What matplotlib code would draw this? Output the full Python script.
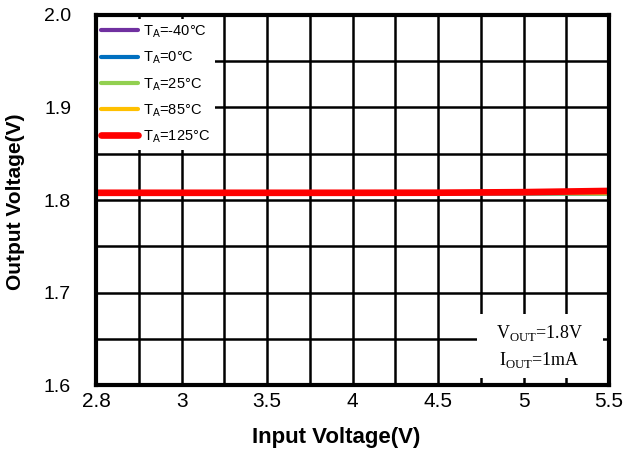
import matplotlib.pyplot as plt
import matplotlib.patches as mpatches
import numpy as np

plt.rcParams['font.family'] = ['Liberation Sans', 'DejaVu Sans']

# input voltage points (V)
vin = [2.8, 3.0, 3.5, 4.0, 4.5, 5.0, 5.5]
# output voltage per temperature (V)
vout_m40 = [1.8072, 1.8072, 1.8072, 1.8072, 1.8072, 1.8071, 1.8071]
vout_0 = [1.8074, 1.8074, 1.8074, 1.8074, 1.8074, 1.8073, 1.8073]
vout_25 = [1.8076, 1.8076, 1.8076, 1.8075, 1.8075, 1.8072, 1.8068]
vout_85 = [1.8079, 1.8079, 1.8079, 1.8079, 1.8079, 1.8080, 1.8082]
vout_125 = [1.8078, 1.8078, 1.8078, 1.8078, 1.8079, 1.8085, 1.8098]

labels = [r'T$_\mathregular{A}$=-40°C', r'T$_\mathregular{A}$=0°C', r'T$_\mathregular{A}$=25°C',
          r'T$_\mathregular{A}$=85°C', r'T$_\mathregular{A}$=125°C']
colors = ['#7030A0', '#0070C0', '#92D050', '#FFC000', '#FF0000']
widths = [3, 3, 3, 3, 4.8]

xtick_vals = [2.8, 3, 3.5, 4, 4.5, 5, 5.5]
xtick_labels = ['2.8', '3', '3.5', '4', '4.5', '5', '5.5']

# the chart's x axis is not linear: 2.8 -> 3 takes the same space as 0.5
def xpos(v):
    return np.interp(v, [2.8, 3.0, 5.5], [2.5, 3.0, 5.5])

fig = plt.figure(figsize=(6.24, 4.5), dpi=100)
ax = fig.add_axes([0.154, 0.144, 0.822, 0.823])

for ys, c, lw, lab in zip([vout_m40, vout_0, vout_25, vout_85, vout_125], colors, widths, labels):
    ax.plot(xpos(vin), ys, color=c, lw=lw, label=lab, zorder=3, solid_capstyle='round')

ax.set_xlim(2.5, 5.5)
ax.set_ylim(1.6, 2.0)
ax.set_xticks(xpos(xtick_vals))
ax.set_xticklabels(xtick_labels)
ax.set_xticks(np.arange(2.75, 5.5, 0.5), minor=True)
ax.set_yticks([1.6, 1.7, 1.8, 1.9, 2.0])
ax.set_yticklabels(['1.6', '1.7', '1.8', '1.9', '2.0'])
ax.set_yticks(np.arange(1.65, 2.0, 0.1), minor=True)
ax.grid(True, which='both', color='black', lw=1.8, zorder=1)
ax.tick_params(which='both', length=0)
ax.tick_params(axis='x', labelsize=15, pad=5)
ax.tick_params(axis='y', labelsize=14, pad=18)
for s in ax.spines.values():
    s.set_linewidth(3)
    s.set_zorder(5)

ax.set_xlabel('Input Voltage(V)', fontsize=16, fontweight='bold')
ax.set_ylabel('Output Voltage(V)', fontsize=15, fontweight='bold')
ax.xaxis.set_label_coords(0.468, -0.114)
ax.yaxis.set_label_coords(-0.138, 0.495)

leg = ax.legend(loc='upper left', bbox_to_anchor=(0, 0.99), frameon=True, fontsize=10.5,
                handlelength=2.5, borderaxespad=0.0, borderpad=0.34, labelspacing=0.65,
                handletextpad=0.36, fancybox=False)
leg.get_frame().set_linewidth(0)
leg.get_frame().set_facecolor('white')
leg.get_frame().set_alpha(1)
leg.set_zorder(4)

# white patch behind the note, like the text box in the original
ax.add_patch(mpatches.Rectangle((0.743, 0.019), 0.245, 0.173, transform=ax.transAxes,
                                fc='white', ec='none', zorder=4))
ax.text(0.865, 0.105, 'V$_\\mathregular{OUT}$=1.8V\nI$_\\mathregular{OUT}$=1mA', transform=ax.transAxes,
        ha='center', va='center', fontsize=13, family=['Liberation Serif', 'DejaVu Serif'],
        linespacing=1.45, zorder=6)

plt.savefig('out.png', dpi=100)
